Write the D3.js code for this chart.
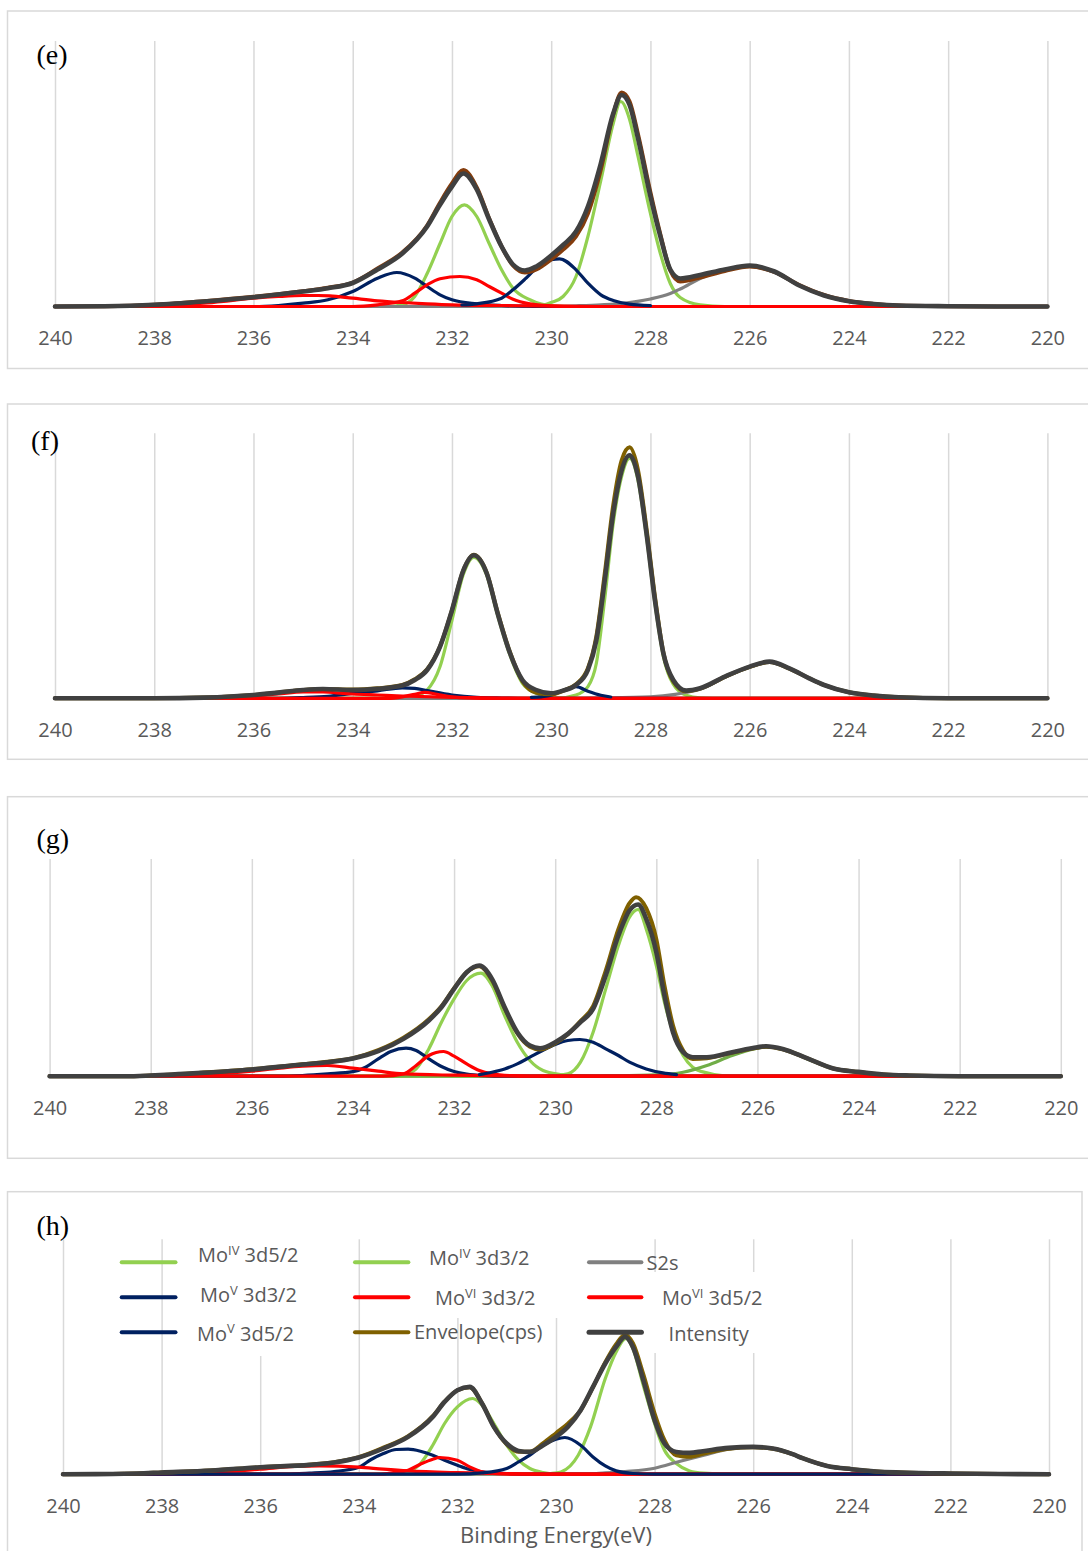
<!DOCTYPE html>
<html>
<head>
<meta charset="utf-8">
<script src="https://cdn.jsdelivr.net/npm/d3@7"></script>
<style>
  body { margin: 0; background: #fff; }
  svg { display: block; }
</style>
</head>
<body>
<svg id="chart" width="1088" height="1551"></svg>
<script>
// binding energy ticks (eV), axis runs high -> low
const ticks = [240, 238, 236, 234, 232, 230, 228, 226, 224, 222, 220];

// ---- panel (e) : [energy eV, intensity a.u.] ----
const eMo4_52 = [[240,0],[230.3,0],[230,4],[229.76,10],[229.5,30],[229.26,70],[229,126],[228.75,183],[228.6,205],[228.42,187],[228.25,150],[228,93],[227.8,53],[227.6,23],[227.4,9],[227,1.7],[226.5,0],[220,0]];
const eMo4_32 = [[240,0],[233.3,0],[233,1.7],[232.75,10],[232.5,33],[232.24,63],[232,90],[231.75,101.7],[231.5,90],[231.25,63],[231,36.7],[230.77,18.3],[230.43,6.7],[230,0.7],[229.5,0],[220,0]];
const eS2s = [[240,0],[230,0],[229.5,0.7],[229,1.7],[228.5,3.5],[228,7.5],[227.6,13],[227.4,17.5],[227,28],[226.5,37],[226,40],[225.5,34],[225,21],[224.5,11],[224,5],[223.5,2],[223,0.8],[222,0],[220,0]];
const eMo5_32 = [[240,0],[236,0],[235.5,1],[235,3.3],[234.5,6.7],[234,15],[233.5,28.3],[233.11,34],[232.75,28.3],[232.5,20],[232.24,11.7],[232,6.7],[231.5,2.7],[231,1],[230.5,0.3],[230,0],[220,0]];
const eMo6_32 = [[240,0],[234,0],[233.5,1.7],[233,5.7],[232.75,13.3],[232.5,21.7],[232.24,27.7],[231.84,30],[231.5,26.7],[231.25,20],[231,13.3],[230.77,7.3],[230.43,2.7],[230,0.7],[229.5,0],[220,0]];
const eMo6_52 = [[240,0],[239,0],[238,0.7],[237,3.3],[236.5,5.7],[236,8.3],[235.5,10],[235,11],[234.7,11],[234.46,10.7],[234,8.3],[233.5,5.7],[233,4],[232.5,2.7],[232,1.7],[231,1],[230,0.3],[229,0],[220,0]];
const eMo5_52 = [[231.8,1.5],[231.5,2.7],[231,8.3],[230.77,16.7],[230.53,27.3],[230.3,38.3],[230,46.7],[229.83,47.7],[229.5,36.7],[229.26,23.3],[229,11.7],[228.75,6],[228.42,2.3],[228,0.9]];
const eEnv = [[240,0],[239,0.3],[238,1.7],[237,5.3],[236,9.7],[235,15.3],[234.5,18.7],[234,24],[233.5,38],[233,54],[232.5,81],[232.25,103],[232,123],[231.77,136.5],[231.5,119],[231.25,88],[231,60],[230.77,41],[230.53,34],[230.3,37],[230,47],[229.76,57],[229.5,70],[229.26,93],[229,137],[228.75,192],[228.58,214],[228.42,205],[228.25,172],[228,114],[227.8,72],[227.6,36],[227.4,25],[227,29],[226.5,35.5],[226,40],[225.5,34.5],[225,21.5],[224.5,11.5],[224,5.5],[223.5,2.5],[223,1],[222,0.3],[221,0],[220,0]];
const eInt = [[240,0],[239,0.3],[238,1.7],[237,5],[236,9.3],[235,15],[234.5,18.3],[234,23.5],[233.5,37],[233,53],[232.5,80],[232.25,101],[232,120],[231.77,133],[231.5,117],[231.25,87],[231,60],[230.77,42],[230.53,36],[230.3,40],[230,51],[229.76,61.5],[229.5,75],[229.26,100],[229,143],[228.75,193],[228.58,211.5],[228.42,201.5],[228.25,168],[228,110],[227.8,70],[227.6,37],[227.4,28],[227,31.5],[226.5,37],[226,41],[225.5,35],[225,21],[224.5,11],[224,5.3],[223.5,2.5],[223,1],[222,0.3],[221,0],[220,0]];

// ---- panel (f) ----
const fMo4_52 = [[240,0],[229.9,0],[229.5,3.3],[229.26,11.7],[229.09,35],[228.92,100],[228.75,175],[228.58,222],[228.42,240],[228.25,218],[228.08,162],[227.91,95],[227.74,42],[227.54,14],[227.28,3],[227,0.5],[226.5,0],[220,0]];
const fMo4_32 = [[240,0],[233,0],[232.75,2],[232.5,8.3],[232.24,31.7],[232,78],[231.77,124],[231.56,141],[231.3,123],[231.08,83],[230.83,43],[230.58,15],[230.3,5],[230,1],[229.5,0],[220,0]];
const fS2s = [[240,0],[229.5,0],[229,0.3],[228,1.5],[227.5,4],[227.28,6],[227,9],[226.5,21],[226,31],[225.6,36],[225.2,29.7],[224.8,19.7],[224.5,13],[224,6],[223.5,2.7],[223,1],[222,0],[220,0]];
const fMo5_32 = [[240,0],[235.5,0],[235,0.7],[234.5,2],[234,5],[233.5,7.5],[233,10.5],[232.75,10],[232.5,7.7],[232,3.3],[231.5,1],[231,0.3],[230.5,0],[220,0]];
const fMo6_32 = [[240,0],[233.3,0],[233,1.5],[232.75,4],[232.55,6],[232.3,4],[232,1.5],[231.7,0.3],[231.4,0],[220,0]];
const fMo6_52 = [[240,0],[237.5,0],[237,0.7],[236,2.3],[235.5,4.3],[235,6.3],[234.6,6.3],[234.2,5],[234,4.3],[233.5,3.3],[233,2.3],[232,1],[231,0.3],[230,0],[220,0]];
const fMo5_52 = [[230.4,1],[230.2,1.5],[230,3],[229.76,8],[229.5,11.7],[229.26,7],[229,3],[228.8,1.3]];
const fEnv = [[240,0],[238,0],[237,0.7],[236,3.3],[235.5,5.7],[235,8.3],[234.6,9.3],[234,8.7],[233.5,10],[233,13.3],[232.75,19],[232.5,29],[232.24,52],[232,88],[231.77,128],[231.56,143.5],[231.3,125.5],[231.08,86],[230.83,46],[230.58,17],[230.3,5.5],[230,4],[229.76,7.5],[229.5,14],[229.26,30],[229.09,62],[228.92,125],[228.75,193],[228.58,238],[228.42,251],[228.25,228],[228.08,170],[227.91,102],[227.74,46],[227.54,17],[227.28,7],[227,9.7],[226.5,21.5],[226,31.5],[225.6,36.3],[225.2,29.7],[224.8,20],[224.5,13.3],[224,6],[223.5,2.7],[223,1],[222,0],[220,0]];
const fInt = [[240,0],[238,0],[237,0.7],[236,3.3],[235.5,5.7],[235,8.3],[234.6,9.3],[234,8.3],[233.5,9.5],[233,12.7],[232.75,18.3],[232.5,28.3],[232.24,51.7],[232,88],[231.77,128],[231.56,143],[231.3,125],[231.08,85],[230.83,45],[230.58,18.3],[230.3,8.3],[230,5],[229.76,7.7],[229.5,13.3],[229.26,28.3],[229.09,58],[228.92,118],[228.75,185],[228.58,228],[228.42,243],[228.25,221.7],[228.08,165],[227.91,98],[227.74,45],[227.54,18.3],[227.28,7.7],[227,10],[226.5,21.7],[226,31.7],[225.6,36.7],[225.2,30],[224.8,20],[224.5,13.3],[224,6],[223.5,2.7],[223,1],[222,0],[220,0]];

// ---- panel (g) ----
const gMo4_52 = [[240,0],[230.3,0],[230,0.7],[229.75,2.3],[229.5,14],[229.25,44],[229,87.3],[228.75,130.7],[228.53,159],[228.36,166.7],[228.2,147.3],[228,110.7],[227.84,74],[227.67,44],[227.47,20.7],[227.28,9],[227,3.3],[226.7,0.7],[226.3,0],[220,0]];
const gMo4_32 = [[240,0],[233.3,0],[233,1.3],[232.75,7.3],[232.5,27.3],[232.25,54],[232,77.3],[231.75,95.7],[231.47,103],[231.25,90.7],[231,60.7],[230.75,34],[230.5,15.7],[230.24,5.7],[229.9,1.7],[229.6,0.5],[229.2,0],[220,0]];
const gS2s = [[240,0],[229.5,0],[229,0.3],[228,1.3],[227.47,4],[227,10.7],[226.5,20.7],[226,28],[225.83,29.3],[225.5,27],[225,17],[224.5,7.7],[224,4],[223.5,1.7],[223,0.7],[222,0],[220,0]];
const gMo5_32 = [[240,0],[235.5,0],[235,0.7],[234.5,2.3],[234,4.5],[233.75,9],[233.5,17.3],[233.25,24.7],[232.95,28],[232.75,25.7],[232.5,17.3],[232.25,9.7],[232,4.7],[231.75,2],[231.4,0.5],[231,0],[220,0]];
const gMo6_32 = [[240,0],[233.4,0],[233,2.3],[232.75,10.7],[232.5,20.7],[232.21,24.7],[232,20],[231.75,12.3],[231.5,5.7],[231.25,2.3],[230.9,0.5],[230.5,0],[220,0]];
const gMo6_52 = [[240,0],[238.5,0],[238,0.3],[237,1.7],[236,5],[235.5,7.7],[235,10],[234.5,10.7],[234,8],[233.5,5],[233,2.3],[232,1],[231,0.3],[230,0],[220,0]];
const gMo5_52 = [[231.5,1.6],[231.25,4],[231,7.3],[230.75,12.3],[230.5,19],[230.25,25.7],[230,31.7],[229.75,35.7],[229.51,36.7],[229.25,34],[229,27.3],[228.75,20.7],[228.53,14],[228.2,7.3],[227.87,3.3],[227.6,1.6]];
const gEnv = [[240,0],[238.5,0],[238,0.7],[237,3.5],[236,7],[235,12],[234.5,14.5],[234,18],[233.5,26],[233,38.5],[232.5,57],[232.25,70],[232,88],[231.75,104],[231.5,110],[231.25,96],[231,68],[230.75,43],[230.5,29.5],[230.3,26.7],[230,33],[229.75,42],[229.5,55],[229.25,70],[229,105.7],[228.75,147],[228.53,173],[228.4,179],[228.2,168],[228,137],[227.84,90.7],[227.67,50.7],[227.47,25.7],[227.28,17.3],[227,18],[226.5,23.5],[226,28.5],[225.83,29.5],[225.5,27],[225,17.5],[224.5,7.7],[224,4.3],[223.5,1.7],[223,0.7],[222,0],[220,0]];
const gInt = [[240,0],[238.5,0],[238,0.7],[237,3.3],[236,6.7],[235,11.7],[234.5,14],[234,17.7],[233.5,25],[233,37.3],[232.5,55.7],[232.25,69],[232,87.3],[231.75,104],[231.5,110.7],[231.25,97.3],[231,69],[230.75,44],[230.5,30.7],[230.3,28],[230,34],[229.75,42.3],[229.5,54],[229.25,67.3],[229,100.7],[228.75,140.7],[228.53,165.7],[228.36,171.7],[228.2,157.3],[228,124],[227.84,80.7],[227.67,44],[227.47,24],[227.28,19],[227,19],[226.5,24],[226,29],[225.83,30],[225.5,27.3],[225,17.5],[224.5,7.7],[224,4.3],[223.5,1.7],[223,0.7],[222,0],[220,0]];

// ---- panel (h) ----
const hMo4_52 = [[240,0],[230.4,0],[230.1,0.7],[229.9,2.3],[229.55,19],[229.3,47.3],[229,95.7],[228.78,122.3],[228.58,135.7],[228.44,125.7],[228.23,89],[228,50.7],[227.8,24],[227.56,10.7],[227.29,3.3],[227,1],[226.5,0],[220,0]];
const hMo4_32 = [[240,0],[233.3,0],[233,2.3],[232.75,10.7],[232.5,29],[232.26,50.7],[232,67.3],[231.69,75.7],[231.5,69],[231.26,50.7],[231,29],[230.76,14],[230.53,5.7],[230.26,1.7],[230,0.3],[229.6,0],[220,0]];
const hS2s = [[240,0],[229.5,0],[229,1.3],[228.6,2.7],[228,6],[227.5,12.7],[227,19],[226.5,25],[226,27],[225.6,25.5],[225.2,20],[225,16],[224.5,8],[224,4.5],[223.5,2.3],[223,1.3],[222,0.5],[221,0],[220,0]];
const hMo5_32 = [[240,0],[235.5,0],[235,1],[234.5,2.7],[234,7],[233.75,14.7],[233.5,20.7],[233.24,24.7],[233,25],[232.75,23],[232.5,19],[232.26,14],[232,9],[231.75,4.7],[231.5,2.3],[231,0.7],[230.5,0],[220,0]];
const hMo6_32 = [[240,0],[233.6,0],[233.3,1.5],[233,4],[232.75,10],[232.5,15],[232.36,16.7],[232,14],[231.75,7.3],[231.5,2.3],[231.2,0.5],[230.8,0],[220,0]];
const hMo6_52 = [[240,0],[238.5,0],[238,0.5],[237,1.7],[236,5],[235.3,7.7],[234.8,8.3],[234,7],[233.5,5],[233,3.3],[232,1.5],[231,0.5],[230,0],[220,0]];
const hMo5_52 = [[240,0],[232,0],[231.5,1.3],[231,5.7],[230.76,12.3],[230.53,19],[230.26,29],[230,35],[229.82,36.7],[229.5,29],[229.25,17.3],[229,8.3],[228.78,3.3],[228.44,0.7],[228,0],[220,0]];
const hEnv = [[240,0],[239,0.2],[238.5,0.7],[238,1.7],[237,3.7],[236,7],[235,9.5],[234.5,12],[234,17],[233.5,26.5],[233,38],[232.5,58],[232.26,72.5],[232,84],[231.75,87],[231.5,71],[231.26,47.5],[231,30],[230.76,22.5],[230.53,22.5],[230.26,31],[230,41],[229.76,50.5],[229.5,64],[229.25,87],[229,112],[228.78,130],[228.6,139.5],[228.44,131],[228.23,100],[228,60.7],[227.8,34],[227.56,19],[227.29,17.5],[227.02,20.5],[226.5,25.5],[226,27],[225.6,25.5],[225.2,20],[225,16],[224.5,8.3],[224,5],[223.5,2.7],[223,1.7],[222,0.7],[221,0.2],[220,0]];
const hInt = [[240,0],[239,0.2],[238.5,0.7],[238,1.7],[237,3.7],[236,7],[235,9.3],[234.5,11.7],[234,16.7],[233.5,25.7],[233,37.3],[232.5,57.3],[232.26,72.3],[232,84],[231.75,87.3],[231.5,70.7],[231.26,47.3],[231,30.7],[230.76,23.3],[230.53,22.3],[230.26,29],[230,37.3],[229.76,47.3],[229.5,64],[229.25,87.3],[229,110.7],[228.78,127.3],[228.6,137.3],[228.44,127.3],[228.23,94],[228,54],[227.8,30.7],[227.56,22.3],[227.29,21.3],[227.02,23],[226.5,26.3],[226,27.3],[225.6,25.7],[225.2,20],[225,16],[224.5,8.3],[224,5],[223.5,2.7],[223,1.7],[222,0.7],[221,0.2],[220,0]];

// series in Excel plot order (also legend order)
const seriesKeys = ['Mo4_52', 'Mo4_32', 'S2s', 'Mo5_32', 'Mo6_32', 'Mo6_52', 'Mo5_52', 'Env', 'Int'];

const style = {
  Mo4_52: { color: '#92D050', width: 3.2 },
  Mo4_32: { color: '#92D050', width: 3.2 },
  S2s:    { color: '#808080', width: 3.2 },
  Mo5_32: { color: '#002060', width: 3.2 },
  Mo6_32: { color: '#FF0000', width: 3.2 },
  Mo6_52: { color: '#FF0000', width: 3.2 },
  Mo5_52: { color: '#002060', width: 3.2 },
  Env:    { color: '#7F6000', width: 4 },
  Int:    { color: '#404040', width: 4.6 }
};

const panels = [
  { label: '(e)', labelX: 36.5, labelY: 63.5, box: [7.5, 11, 1100, 357.5], x0: 55, x1: 1047.4, base: 306.5, yMax: 265.5,
    data: { Mo4_52: eMo4_52, Mo4_32: eMo4_32, S2s: eS2s, Mo5_32: eMo5_32, Mo6_32: eMo6_32, Mo6_52: eMo6_52, Mo5_52: eMo5_52, Env: eEnv, Int: eInt },
    colors: { Env: '#843C0C' } },
  { label: '(f)', labelX: 31, labelY: 449.5, box: [7.5, 404, 1100, 355.3], x0: 55, x1: 1047.4, base: 698.3, yMax: 265,
    data: { Mo4_52: fMo4_52, Mo4_32: fMo4_32, S2s: fS2s, Mo5_32: fMo5_32, Mo6_32: fMo6_32, Mo6_52: fMo6_52, Mo5_52: fMo5_52, Env: fEnv, Int: fInt },
    colors: {} },
  { label: '(g)', labelX: 36.5, labelY: 847.5, box: [7.5, 796.7, 1100, 361.6], x0: 49.6, x1: 1060.8, base: 1076.2, yMax: 217.2,
    data: { Mo4_52: gMo4_52, Mo4_32: gMo4_32, S2s: gS2s, Mo5_32: gMo5_32, Mo6_32: gMo6_32, Mo6_52: gMo6_52, Mo5_52: gMo5_52, Env: gEnv, Int: gInt },
    colors: { S2s: '#70AD47' } },
  { label: '(h)', labelX: 36.5, labelY: 1234.5, box: [7.5, 1191.7, 1074.5, 400], x0: 63, x1: 1049, base: 1474.2, yMax: 234.9,
    data: { Mo4_52: hMo4_52, Mo4_32: hMo4_32, S2s: hS2s, Mo5_32: hMo5_32, Mo6_32: hMo6_32, Mo6_52: hMo6_52, Mo5_52: hMo5_52, Env: hEnv, Int: hInt },
    colors: {}, legend: true, title: 'Binding Energy(eV)' }
];

// legend of panel (h): [key, text, superscript, rest, line x1, line x2, line y, text x, text baseline]
const legendItems = [
  ['Mo4_52', 'Mo', 'IV', ' 3d5/2', 121.7, 175.5, 1262.3, 198, 1262],
  ['Mo4_32', 'Mo', 'IV', ' 3d3/2', 355, 408.4, 1262.3, 429, 1265],
  ['S2s', 'S2s', '', '', 589, 641.4, 1262.3, 646.6, 1270],
  ['Mo5_32', 'Mo', 'V', ' 3d3/2', 121.7, 175.5, 1297.3, 200, 1302.3],
  ['Mo6_32', 'Mo', 'VI', ' 3d3/2', 355, 408.4, 1297.3, 435, 1305],
  ['Mo6_52', 'Mo', 'VI', ' 3d5/2', 589, 641.4, 1297.3, 662, 1305],
  ['Mo5_52', 'Mo', 'V', ' 3d5/2', 121.7, 175.5, 1332.3, 197, 1340.7],
  ['Env', 'Envelope(cps)', '', '', 355, 408.4, 1332.3, 414, 1339],
  ['Int', 'Intensity', '', '', 589, 641.4, 1332.3, 668.6, 1340.7]
];
// white backing of legend entries (hides gridlines behind the text)
const legendBacks = [[190, 1239, 122, 117], [425, 1239, 135, 79], [645, 1272, 130, 81]];

const svg = d3.select('#chart');
svg.append('rect').attr('width', 1088).attr('height', 1551).attr('fill', '#fff');

panels.forEach(p => {
  const g = svg.append('g');
  const x = d3.scaleLinear().domain([240, 220]).range([p.x0, p.x1]);
  const y = d3.scaleLinear().domain([0, p.yMax]).range([p.base, p.base - p.yMax]);

  g.append('rect')
    .attr('x', p.box[0]).attr('y', p.box[1])
    .attr('width', p.box[2]).attr('height', p.box[3])
    .attr('fill', '#fff').attr('stroke', '#d9d9d9').attr('stroke-width', 1.5);

  // vertical gridlines
  const grid = g.append('g')
    .attr('transform', `translate(0,${p.base})`)
    .call(d3.axisBottom(x).tickValues(ticks).tickSize(-(y(0) - y(p.yMax))).tickFormat(''));
  grid.select('.domain').remove();
  grid.selectAll('.tick line').attr('stroke', '#d9d9d9').attr('stroke-width', 1.5);

  if (p.legend) {
    g.selectAll('rect.lb').data(legendBacks).enter().append('rect')
      .attr('class', 'lb')
      .attr('x', d => d[0]).attr('y', d => d[1])
      .attr('width', d => d[2]).attr('height', d => d[3])
      .attr('fill', '#fff');
  }

  // tick labels
  const ax = g.append('g')
    .attr('transform', `translate(0,${p.base})`)
    .call(d3.axisBottom(x).tickValues(ticks).tickSize(0).tickPadding(24.3).tickFormat(d3.format('d')));
  ax.select('.domain').remove();
  ax.selectAll('text')
    .attr('fill', '#595959')
    .style('font-family', '"Open Sans", sans-serif')
    .style('font-size', '20px');

  const line = d3.line()
    .x(d => x(d[0]))
    .y(d => y(d[1]))
    .curve(d3.curveMonotoneX);

  seriesKeys.forEach(k => {
    g.append('path')
      .datum(p.data[k])
      .attr('d', line)
      .attr('fill', 'none')
      .attr('stroke', p.colors[k] || style[k].color)
      .attr('stroke-width', style[k].width)
      .attr('stroke-linejoin', 'round')
      .attr('stroke-linecap', 'round');
  });

  g.append('text')
    .attr('x', p.labelX).attr('y', p.labelY)
    .attr('fill', '#000')
    .style('font-family', '"Liberation Serif", "Times New Roman", serif')
    .style('font-size', '28px')
    .text(p.label);

  if (p.legend) {
    const lg = g.append('g');
    legendItems.forEach(it => {
      lg.append('line')
        .attr('x1', it[4]).attr('x2', it[5])
        .attr('y1', it[6]).attr('y2', it[6])
        .attr('stroke', style[it[0]].color)
        .attr('stroke-width', it[0] === 'Int' ? 5 : 4)
        .attr('stroke-linecap', 'round');
      const t = lg.append('text')
        .attr('x', it[7]).attr('y', it[8])
        .attr('fill', '#595959')
        .style('font-family', '"Open Sans", sans-serif')
        .style('font-size', '20px');
      t.append('tspan').text(it[1]);
      if (it[2]) {
        t.append('tspan').attr('dy', -7.5).style('font-size', '13px').text(it[2]);
        t.append('tspan').attr('dy', 7.5).text(it[3]);
      }
    });
  }

  if (p.title) {
    g.append('text')
      .attr('x', (p.x0 + p.x1) / 2).attr('y', 1543)
      .attr('text-anchor', 'middle')
      .attr('fill', '#595959')
      .style('font-family', '"Open Sans", sans-serif')
      .style('font-size', '22px')
      .text(p.title);
  }
});
</script>
</body>
</html>
